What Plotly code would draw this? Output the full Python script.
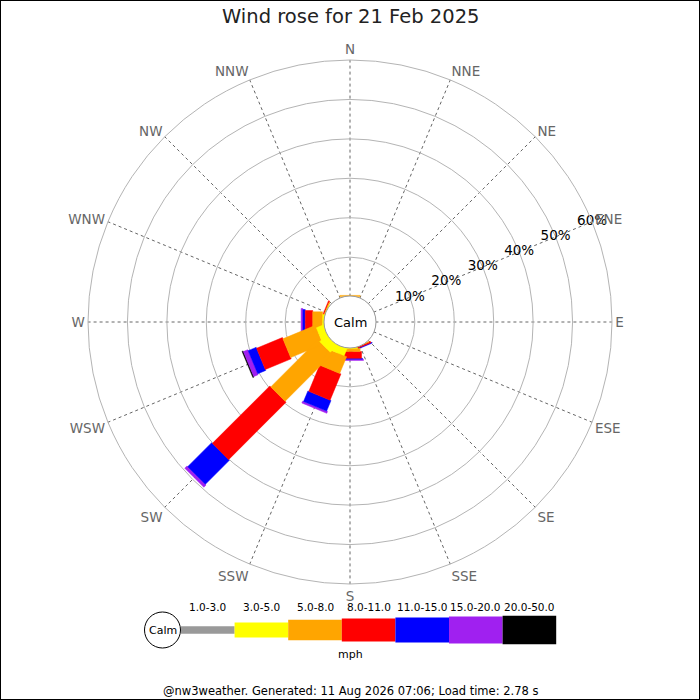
import math
import plotly.graph_objects as go

# wind rose data, % of time per direction and speed bin (non-cumulative)
directions = ["N", "NNE", "NE", "ENE", "E", "ESE", "SE", "SSE",
              "S", "SSW", "SW", "WSW", "W", "WNW", "NW", "NNW"]
bins = ["1.0-3.0", "3.0-5.0", "5.0-8.0", "8.0-11.0", "11.0-15.0", "15.0-20.0", "20.0-50.0"]
colors = ["#999999", "#ffff00", "#ffa500", "#ff0000", "#0000ff", "#a020f0", "#000000"]

# one row per direction, one column per bin
freq = [
    [0, 0, 0.3, 0, 0, 0, 0],            # N
    [0, 0, 0, 0, 0, 0, 0],              # NNE
    [0, 0, 0, 0, 0, 0, 0],              # NE
    [0, 0, 0, 0, 0, 0, 0],              # ENE
    [0, 0, 0, 0, 0, 0, 0],              # E
    [0, 0, 0, 0, 0, 0, 0],              # ESE
    [0, 0, 0, 0, 0, 0, 0],              # SE
    [0, 0, 0.1, 0.35, 0.2, 0, 0],       # SSE
    [0, 0.3, 0.75, 1.7, 0.25, 0.3, 0],  # S
    [0, 2.0, 4.6, 7.2, 2.9, 0.5, 0],    # SSW
    [0, 2.5, 16.9, 20.6, 8.6, 0.8, 0],  # SW
    [0, 2.0, 8.9, 7.1, 2.2, 1.2, 0.3],  # WSW
    [0, 0.5, 2.5, 1.9, 0.6, 0.45, 0],   # W
    [0, 0.15, 0.2, 0.3, 0, 0, 0],       # WNW
    [0, 0, 0, 0, 0, 0, 0],              # NW
    [0, 0, 0, 0, 0, 0, 0],              # NNW
]
rings = [10, 20, 30, 40, 50, 60]
title = "Wind rose for 21 Feb 2025"
footer = "@nw3weather. Generated: 11 Aug 2026 07:06; Load time: 2.78 s"

# layout / style
W = H = 700
cx, cy, R = 350, 322, 262
hole = 0.097
rmax = 60
bar_px = [7.7, 15, 20.3, 23, 25, 27, 28.3]   # bar thickness per bin, pixels

px_per_pct = R * (1 - hole) / rmax
hole_pct = R * hole / px_per_pct


def rect(theta, a, b, half):
    # straight-edged bar from a to b (%) along direction theta, in polar coords
    rs, ts = [], []
    for d, s in [(a, -1), (b, -1), (b, 1), (a, 1), (a, -1)]:
        D = hole_pct + d
        rs.append(math.hypot(D, half) - hole_pct)
        ts.append(theta + s * math.degrees(math.atan2(half, D)))
    return rs, ts


def px(x, y):
    return x / W, 1 - y / H


fig = go.Figure()
thetas = [i * 22.5 for i in range(len(directions))]

# widest bins first so narrower ones sit on top
for k in reversed(range(len(bins))):
    half = bar_px[k] / 2 / px_per_pct
    rr, tt = [], []
    for i, th in enumerate(thetas):
        start = sum(freq[i][:k])
        v = freq[i][k]
        if v <= 0:
            continue
        rs, ts = rect(th, start, start + v, half)
        rr += rs + [None]
        tt += ts + [None]
    if rr:
        fig.add_trace(go.Scatterpolar(
            r=rr, theta=tt, mode="lines", fill="toself",
            fillcolor=colors[k], line=dict(color=colors[k], width=0.5),
            hoverinfo="skip", showlegend=False))

# radial labels along the ENE spoke
fig.add_trace(go.Scatterpolar(
    r=rings, theta=[67.5] * len(rings), mode="text",
    text=[f"{v}%" for v in rings],
    textfont=dict(size=13.5, color="#000000", family="DejaVu Sans"),
    hoverinfo="skip", showlegend=False))

fig.update_layout(
    width=W, height=H,
    margin=dict(l=0, r=0, t=0, b=0),
    paper_bgcolor="white",
    font=dict(family="DejaVu Sans"),
    polar=dict(
        domain=dict(x=[(cx - R) / W, (cx + R) / W],
                    y=[(H - cy - R) / H, (H - cy + R) / H]),
        hole=hole,
        bgcolor="white",
        radialaxis=dict(range=[0, rmax], tickvals=rings, showticklabels=False,
                        ticks="", showline=False, gridcolor="#b4b4b4", gridwidth=1),
        angularaxis=dict(rotation=90, direction="clockwise",
                         tickvals=thetas, ticktext=directions, ticks="",
                         tickfont=dict(size=13.5, color="#666666"),
                         showline=True, linecolor="#b4b4b4", linewidth=1,
                         gridcolor="#666666", griddash="dot", gridwidth=1),
    ),
)

shapes = [
    # frame
    dict(type="rect", xref="paper", yref="paper", x0=0, y0=0, x1=1, y1=1,
         line=dict(color="black", width=2)),
]
annotations = []


def label(text, x, y, size, color="#000000"):
    ax, ay = px(x, y)
    annotations.append(dict(text=text, x=ax, y=ay, xref="paper", yref="paper",
                            xanchor="center", yanchor="middle", showarrow=False,
                            font=dict(size=size, color=color)))


def circle(x, y, r, color):
    x0, y0 = px(x - r, y + r)
    x1, y1 = px(x + r, y - r)
    shapes.append(dict(type="circle", xref="paper", yref="paper",
                       x0=x0, x1=x1, y0=y0, y1=y1,
                       line=dict(color=color, width=1), fillcolor="white"))


label(title, 350, 17, 19.5, "#222222")

# calm circle in the middle
circle(cx, cy, 26, "#999999")
label("Calm", cx, cy, 13)

# speed legend at the bottom
lx0, lw, ly = 181, 53.6, 630
circle(162.5, ly, 18, "#000000")
label("Calm", 162.5, ly, 11)
for k, lab in enumerate(bins):
    x0 = lx0 + k * lw
    hh = bar_px[k] / 2
    a0, b0 = px(x0, ly + hh)
    a1, b1 = px(x0 + lw, ly - hh)
    shapes.append(dict(type="rect", xref="paper", yref="paper",
                       x0=a0, x1=a1, y0=b0, y1=b1,
                       line=dict(width=0), fillcolor=colors[k]))
    label(lab, x0 + lw / 2, 607, 10.5)
label("mph", 350, 654, 11)
label(footer, 350, 691, 11.5)

fig.update_layout(shapes=shapes, annotations=annotations)
fig.write_html("out.html", config={"displayModeBar": False},
               post_script="document.body.style.margin='0';document.body.style.overflow='hidden';")
